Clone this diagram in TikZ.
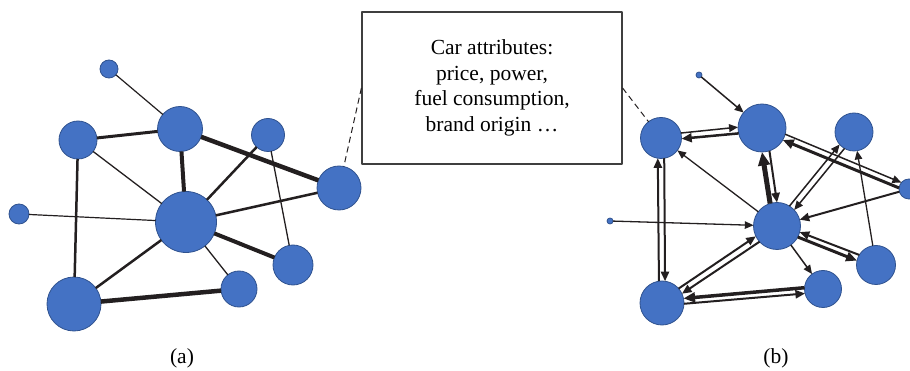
\documentclass[tikz,border=0pt]{standalone}
\usepackage{fontspec}
\setmainfont{Liberation Serif}
\usetikzlibrary{arrows.meta,calc}
\definecolor{carblue}{HTML}{4472C4}
\definecolor{carrim}{HTML}{2F528F}
\definecolor{ink}{HTML}{231F20}
\definecolor{boxgray}{HTML}{3F3F3F}
\tikzset{
  every picture/.style={line join=round, >={Triangle[length=7pt 1.3,width=6pt 1.1]}},
  car/.style={circle, fill=carblue, draw=carrim, line width=0.8pt, inner sep=0pt, outer sep=0pt, minimum size=#1},
  link/.style={draw=ink, line width=#1},
  side/.style={to path={
    let \p1=($(\tikztotarget.center)-(\tikztostart.center)$),
        \n1={atan2(\y1,\x1)},
        \p2=($(\tikztostart.east)-(\tikztostart.center)$),
        \p3=($(\tikztotarget.east)-(\tikztotarget.center)$),
        \n2={\n1+asin(#1/\x2)},
        \n3={\n1+180-asin(#1/\x3)}
    in (\tikztostart.\n2) -- (\tikztotarget.\n3)}},
  caption/.style={font=\fontsize{21.5}{25.5}\selectfont},
}

\begin{document}
\begin{tikzpicture}[x=1pt,y=-1pt]
\useasboundingbox (0,0) rectangle (910,371);
% (a) undirected network
\node[car=18] (aS1) at (109,69) {};
\node[car=45] (aT) at (180,129) {};
\node[car=38] (aL) at (78,140) {};
\node[car=33] (aU) at (268,135) {};
\node[car=44] (aF) at (339,188) {};
\node[car=20] (aS2) at (19,214) {};
\node[car=61] (aC) at (186,222) {};
\node[car=40] (aR) at (293,265) {};
\node[car=36] (aM) at (239,289) {};
\node[car=54] (aB) at (74,304) {};
\draw[link=1.2] (aS1) -- (aT);
\draw[link=3] (aL) -- (aT);
\draw[link=4.5] (aT) -- (aF);
\draw[link=4] (aT) -- (aC);
\draw[link=1.3] (aL) -- (aC);
\draw[link=2.5] (aL) -- (aB);
\draw[link=1.2] (aS2) -- (aC);
\draw[link=2.5] (aU) -- (aC);
\draw[link=1.3] (aU) -- (aR);
\draw[link=2.5] (aF) -- (aC);
\draw[link=4] (aC) -- (aR);
\draw[link=1.3] (aC) -- (aM);
\draw[link=2.5] (aC) -- (aB);
\draw[link=4.5] (aB) -- (aM);
% attribute box
\node[draw=boxgray, line width=1.2pt, minimum width=260pt, minimum height=152pt, align=center, caption] (attr) at (492,88) {Car attributes:\\price, power,\\fuel consumption,\\brand origin \dots};
% (b) directed network
\node[car=6] (bS1) at (699,75) {};
\node[car=48] (bT) at (762,128) {};
\node[car=41] (bL) at (661,138) {};
\node[car=38] (bU) at (854,132) {};
\node[car=20] (bF) at (909,189) {};
\node[car=6] (bS2) at (610,221) {};
\node[car=47] (bC) at (777,226) {};
\node[car=39] (bR) at (876,265) {};
\node[car=37] (bM) at (823,289) {};
\node[car=44] (bB) at (662,303) {};
\draw[dash pattern=on 6pt off 4pt, line width=1pt, ink] (attr.west) -- (aF);
\draw[dash pattern=on 6pt off 4pt, line width=1pt, ink] (attr.east) -- (bL);
\draw[link=1.5,->] (bS1) -- (bT);
\draw[link=1.3,->] (bC) -- (bL);
\draw[link=2,->] (bF) -- (bC);
\draw[link=1.3,->] (bR) -- (bU);
\draw[link=1.3,->] (bS2) -- (bC);
\draw[link=1.5,->] (bC) -- (bM);
\draw[link=1.5,->] (bL) to[side=3] (bT);
\draw[link=2.5,->] (bT) to[side=3] (bL);
\draw[link=1.5,->] (bT) to[side=3] (bF);
\draw[link=3,->] (bF) to[side=3] (bT);
\draw[link=5,->] (bC) to[side=3.5] (bT);
\draw[link=2,->] (bT) to[side=3.5] (bC);
\draw[link=1.5,->] (bC) to[side=3] (bU);
\draw[link=1.5,->] (bU) to[side=3] (bC);
\draw[link=2,->] (bL) to[side=3] (bB);
\draw[link=2,->] (bB) to[side=3] (bL);
\draw[link=2,->] (bB) to[side=3] (bC);
\draw[link=2,->] (bC) to[side=3] (bB);
\draw[link=2,->] (bR) to[side=-3] (bC);
\draw[link=3,->] (bC) to[side=-3] (bR);
\draw[link=3.5,->] (bM) to[side=-3] (bB);
\draw[link=2,->] (bB) to[side=-3] (bM);
% captions
\node[caption] (capa) at (182,358) {(a)};
\node[caption] (capb) at (776,358) {(b)};
\end{tikzpicture}
\end{document}
